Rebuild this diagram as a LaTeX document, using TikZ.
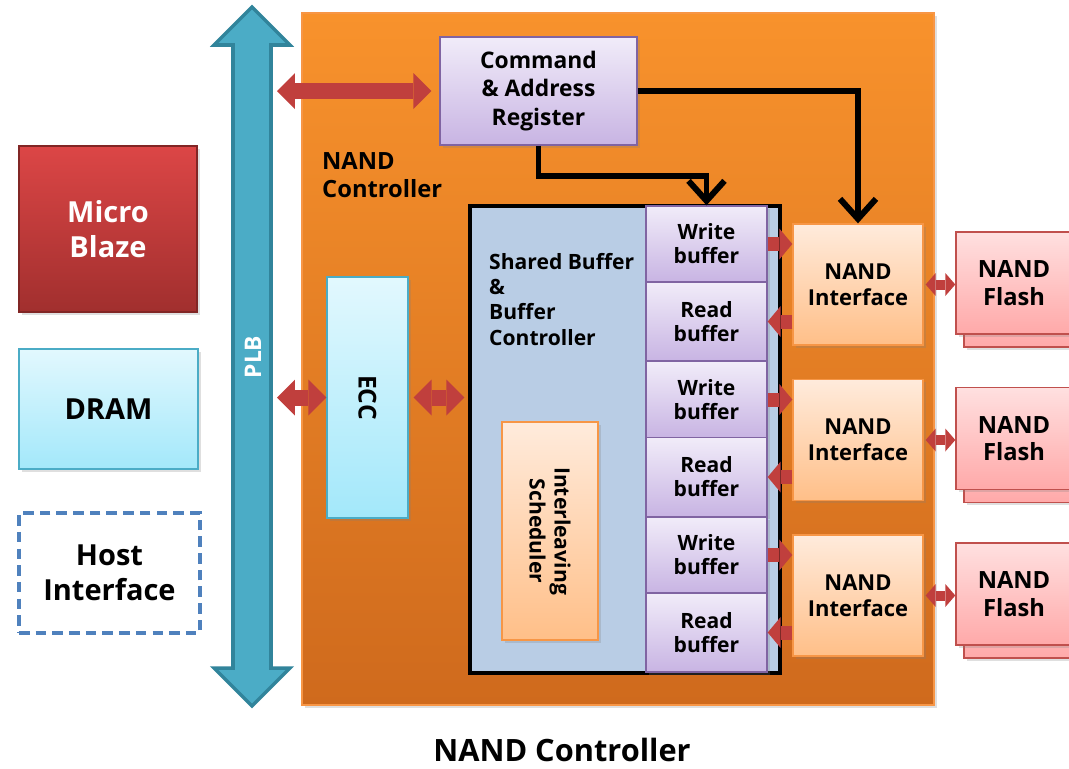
\documentclass[tikz,border=0pt]{standalone}
\usepackage{fontspec}
\setmainfont{Open Sans}
\usepackage{tikz}
\usetikzlibrary{arrows.meta,shadows}

\definecolor{ctrltop}{HTML}{F8922C}
\definecolor{ctrlbot}{HTML}{CF6A1D}
\definecolor{ctrlline}{HTML}{F79646}
\definecolor{purptop}{HTML}{F1ECF9}
\definecolor{purpbot}{HTML}{C8B4E3}
\definecolor{purpline}{HTML}{8064A2}
\definecolor{cyantop}{HTML}{E2F8FE}
\definecolor{cyanbot}{HTML}{A3E8FA}
\definecolor{cyanline}{HTML}{4BACC6}
\definecolor{peachtop}{HTML}{FFEBDC}
\definecolor{peachbot}{HTML}{FFBF88}
\definecolor{flashtop}{HTML}{FFE0E0}
\definecolor{flashbot}{HTML}{FFA9A9}
\definecolor{flashline}{HTML}{C0504D}
\definecolor{redtop}{HTML}{DC4646}
\definecolor{redbot}{HTML}{A12F2E}
\definecolor{arrowred}{HTML}{C03F3D}
\definecolor{sharedfill}{HTML}{B9CDE5}
\definecolor{hostline}{HTML}{4F81BD}
\definecolor{plbfill}{HTML}{4BACC6}
\definecolor{plbline}{HTML}{31849B}

\begin{document}
\begin{tikzpicture}[x=0.02cm,y=-0.02cm]
  \tikzset{box/.style = {shape=rectangle, align=center, line width=0.8pt,
      drop shadow={shadow xshift=1.5pt, shadow yshift=-1.5pt, opacity=0.25}}}
  \tikzset{purpbox/.style = {box, draw=purpline, top color=purptop, bottom color=purpbot}}
  \tikzset{cyanbox/.style = {box, draw=cyanline, top color=cyantop, bottom color=cyanbot}}
  \tikzset{peachbox/.style = {box, draw=ctrlline, top color=peachtop, bottom color=peachbot}}
  \tikzset{flashbox/.style = {box, draw=flashline, top color=flashtop, bottom color=flashbot,
      minimum width=2.32cm, minimum height=2.04cm, font=\bfseries\fontsize{13.5}{15.8}\selectfont}}
  \tikzset{bufbox/.style = {purpbox, drop shadow={opacity=0}, minimum width=2.42cm,
      font=\bfseries\fontsize{12}{13.6}\selectfont}}
  \tikzset{nifbox/.style = {peachbox, minimum width=2.6cm, minimum height=2.42cm,
      font=\bfseries\fontsize{12.5}{14.7}\selectfont}}
  \tikzset{bus/.style = {draw=arrowred, line width=0.32cm,
      {Triangle[width=0.72cm,length=0.36cm,line width=0pt]}-{Triangle[width=0.72cm,length=0.36cm,line width=0pt]}}}
  \tikzset{datapath/.style = {draw=arrowred, line width=0.28cm,
      -{Triangle[width=0.62cm,length=0.26cm,line width=0pt]}}}
  \tikzset{flashpath/.style = {draw=arrowred, line width=0.2cm,
      {Triangle[width=0.46cm,length=0.2cm,line width=0pt]}-{Triangle[width=0.46cm,length=0.2cm,line width=0pt]}}}
  \tikzset{ctrlpath/.style = {draw=black, line width=3.4pt,
      -{Straight Barb[length=0.4cm,width=0.72cm]}}}

  \useasboundingbox (0,0) rectangle (1069,768);
  \clip (0,0) rectangle (1069,768);

  % controller frame and bus
  \node[box, draw=ctrlline, top color=ctrltop, bottom color=ctrlbot,
        minimum width=12.64cm, minimum height=13.84cm] (ctrl) at (618,359) {};
  \node[anchor=north west, align=left, font=\bfseries\fontsize{13.5}{15.9}\selectfont]
        (ctrllabel) at (316,146) {NAND\\Controller};
  \draw[fill=plbfill, draw=plbline, line width=2pt, line join=miter]
        (233,45) -- (214,45) -- (252,7) -- (290,45) -- (271,45) -- (271,668)
        -- (290,668) -- (252,706) -- (214,668) -- (233,668) -- cycle;
  \node[rotate=90, text=white, font=\bfseries\fontsize{13}{15}\selectfont] (plb) at (253,357) {PLB};
  \coordinate (plbright) at (277,357);

  % left side blocks
  \node[box, draw=redbot!80!black, top color=redtop, bottom color=redbot, text=white,
        minimum width=3.56cm, minimum height=3.32cm,
        font=\bfseries\fontsize{16.5}{19.8}\selectfont] (micro) at (108,229) {Micro\\Blaze};
  \node[cyanbox, minimum width=3.58cm, minimum height=2.4cm,
        font=\bfseries\fontsize{16.5}{19.8}\selectfont] (dram) at (108.5,409) {DRAM};
  \node[shape=rectangle, align=center, draw=hostline, dash pattern=on 6pt off 3.5pt,
        line width=1.8pt, fill=white, minimum width=3.62cm, minimum height=2.4cm,
        font=\bfseries\fontsize{16.5}{19.8}\selectfont] (host) at (109.5,573) {Host\\Interface};

  % inside the controller
  \node[purpbox, minimum width=3.94cm, minimum height=2.16cm,
        font=\bfseries\fontsize{13}{16.4}\selectfont] (car) at (538.5,91) {Command\\\& Address\\Register};
  \node[cyanbox, minimum width=1.62cm, minimum height=4.82cm] (ecc) at (367.5,397.5) {};
  \node[rotate=-90, font=\bfseries\fontsize{14}{16}\selectfont] (ecctext) at (ecc) {ECC};
  \node[shape=rectangle, draw=black, fill=sharedfill, line width=1.8pt,
        minimum width=6.2cm, minimum height=9.34cm] (shared) at (625,439.5) {};
  \node[anchor=north west, align=left, font=\bfseries\fontsize{12}{14.4}\selectfont]
        (sharedtext) at (483,247) {Shared Buffer\\\&\\Buffer\\Controller};
  \node[peachbox, minimum width=1.92cm, minimum height=4.36cm] (sched) at (550,531) {};
  \node[rotate=-90, align=center, font=\bfseries\fontsize{12}{14.2}\selectfont]
        (schedtext) at (sched) {Interleaving\\Scheduler};

  % buffers
  \node[bufbox, minimum height=1.52cm] (wb1) at (706.5,244) {Write\\buffer};
  \node[bufbox, minimum height=1.58cm] (rb1) at (706.5,321.5) {Read\\buffer};
  \node[bufbox, minimum height=1.52cm] (wb2) at (706.5,399.5) {Write\\buffer};
  \node[bufbox, minimum height=1.58cm] (rb2) at (706.5,477) {Read\\buffer};
  \node[bufbox, minimum height=1.52cm] (wb3) at (706.5,555) {Write\\buffer};
  \node[bufbox, minimum height=1.58cm] (rb3) at (706.5,632.5) {Read\\buffer};

  % NAND interfaces
  \node[nifbox] (nif1) at (858,284.5) {NAND\\Interface};
  \node[nifbox] (nif2) at (858,440) {NAND\\Interface};
  \node[nifbox] (nif3) at (858,595.5) {NAND\\Interface};

  % NAND flash stacks
  \node[flashbox] (flashback1) at (1022,296) {};
  \node[flashbox] (flash1) at (1014,283) {NAND\\Flash};
  \node[flashbox] (flashback2) at (1022,451.5) {};
  \node[flashbox] (flash2) at (1014,438.5) {NAND\\Flash};
  \node[flashbox] (flashback3) at (1022,607) {};
  \node[flashbox] (flash3) at (1014,594) {NAND\\Flash};

  % connectors
  \draw[bus] (plbright |- car.west) -- ([xshift=-0.16cm]car.west);
  \draw[bus] (plbright |- ecc.west) -- (ecc.west);
  \draw[bus] ([xshift=0.1cm]ecc.east) -- ([xshift=-0.08cm]ecc.east -| shared.west);

  \draw[ctrlpath] (car.south) -- ++(0,30) -| (wb1.north);
  \draw[ctrlpath] (car.east) -| (nif1.north);

  \draw[datapath] (wb1.east) -- (wb1.east -| nif1.west);
  \draw[datapath] (rb1.east -| nif1.west) -- (rb1.east);
  \draw[datapath] (wb2.east) -- (wb2.east -| nif2.west);
  \draw[datapath] (rb2.east -| nif2.west) -- (rb2.east);
  \draw[datapath] (wb3.east) -- (wb3.east -| nif3.west);
  \draw[datapath] (rb3.east -| nif3.west) -- (rb3.east);

  \draw[flashpath] ([xshift=0.04cm]nif1.east) -- (nif1.east -| flash1.west);
  \draw[flashpath] ([xshift=0.04cm]nif2.east) -- (nif2.east -| flash2.west);
  \draw[flashpath] ([xshift=0.04cm]nif3.east) -- (nif3.east -| flash3.west);

  \node[font=\bfseries\fontsize{17.5}{21}\selectfont] (title) at (562,750) {NAND Controller};
\end{tikzpicture}
\end{document}
